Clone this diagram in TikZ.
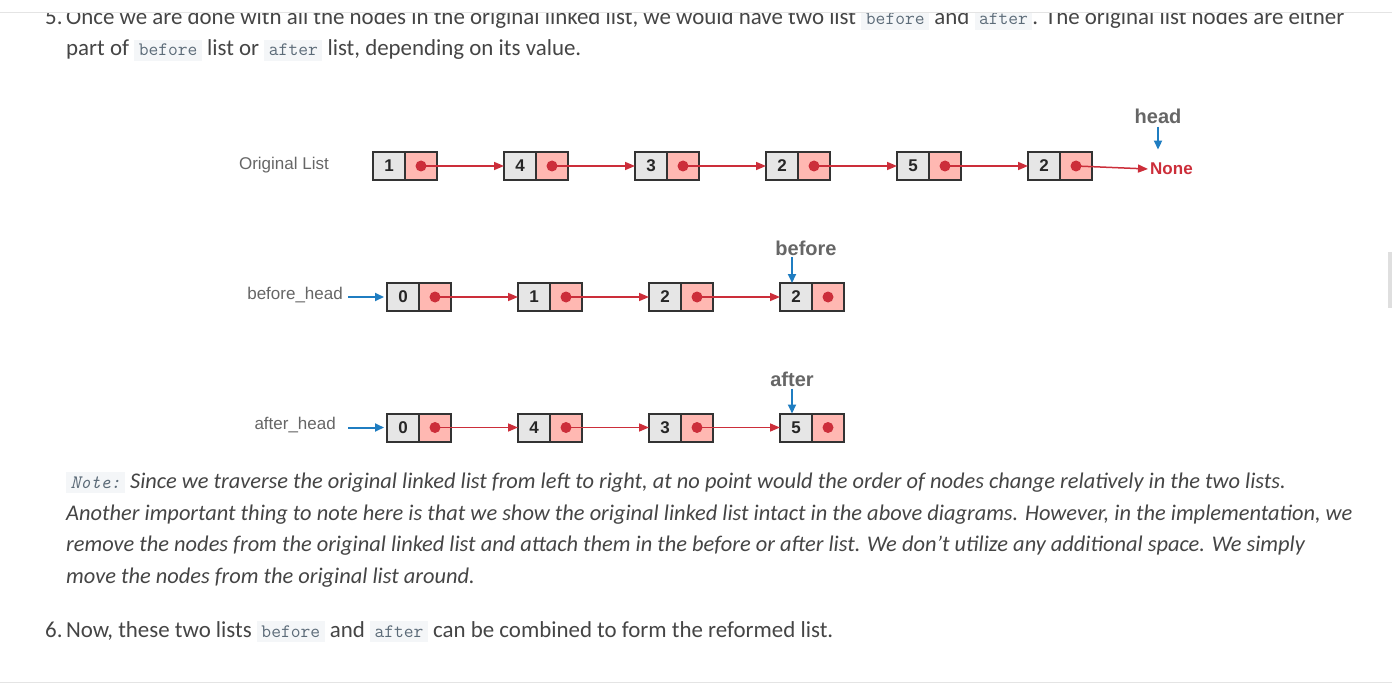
\documentclass[tikz,border=0pt]{standalone}
\usepackage{fontspec}
\setmainfont{Carlito}
\newfontfamily\labelfont{Liberation Sans}
\usepackage{xcolor}
\usetikzlibrary{arrows.meta,positioning}

\definecolor{boxgray}{HTML}{E6E6E6}
\definecolor{boxpink}{HTML}{FFB8B2}
\definecolor{ptrred}{HTML}{CC2E3A}
\definecolor{ptrblue}{HTML}{1F7DC1}
\definecolor{labelgray}{HTML}{666666}
\definecolor{bodytext}{HTML}{454545}
\definecolor{codebg}{HTML}{F4F6F8}
\definecolor{codetext}{HTML}{5C6B78}
\definecolor{rulegray}{HTML}{E4E4E4}

\newcommand{\code}[1]{{\setlength{\fboxsep}{4.5pt}\colorbox{codebg}{\color{codetext}\ttfamily\fontsize{19}{19}\selectfont #1}}}

\tikzset{
  val/.style={draw=black!80, line width=2pt, fill=boxgray, minimum width=32pt, minimum height=28pt,
    inner sep=0pt, outer sep=0pt, font=\labelfont\bfseries\fontsize{17}{17}\selectfont, text=black!85},
  nxt/.style={val, fill=boxpink},
  link/.style={ptrred, line width=1.5pt, -{Triangle[length=10pt,width=8pt]}},
  ptr/.style={ptrblue, line width=2pt, -{Triangle[length=9pt,width=8pt]}},
  listname/.style={font=\labelfont\fontsize{17}{17}\selectfont, text=labelgray, anchor=east, inner sep=0pt},
  tag/.style={font=\labelfont\bfseries\fontsize{20}{20}\selectfont, text=labelgray, inner sep=0pt},
  body/.style={anchor=base west, inner sep=0pt, text=bodytext, font=\fontsize{22.9}{22.9}\selectfont},
  note/.style={body, font=\fontsize{22.4}{22.4}\selectfont\itshape}
}

\begin{document}
\begin{tikzpicture}[x=1pt,y=-1pt]
  \useasboundingbox (0,0) rectangle (1392,687);
  \fill[white] (0,0) rectangle (1392,687);

  % text above
  \node[body] (n5) at (45,25) {5.};
  \node[body] (p1) at (66,25) {Once we are done with all the nodes in the original linked list, we would have two list \code{before} and \code{after}. The original list nodes are either};
  \node[body] (p2) at (66,56) {part of \code{before} list or \code{after} list, depending on its value.};
  \fill[white] (0,0) rectangle (1392,12);
  \draw[rulegray] (0,12) -- (1392,12);

  % original list
  \node[listname] (orig) at (329,165) {Original List};
  \foreach \v [count=\i] in {1,4,3,2,5,2}{
    \node[val] (o\i) at ({389+131*(\i-1)},166) {\v};
    \node[nxt, right=0pt of o\i] (op\i) {};
  }
  \node[font=\labelfont\bfseries\fontsize{17}{17}\selectfont, text=ptrred, anchor=west, inner sep=0pt] (none) at (1150,169) {None};
  \foreach \i [evaluate=\i as \j using int(\i+1)] in {1,...,5}
    \draw[link] (op\i.center) -- (o\j.west);
  \draw[link] (op6.center) -- ([xshift=-2pt]none.west);
  \foreach \i in {1,...,6}
    \fill[ptrred] (op\i) circle (5.5pt);
  \node[tag] (head) at (1158,116) {head};
  \draw[ptr] ([yshift=-3pt]head.south) -- ++(0,23);

  % before list
  \node[listname] (bhead) at (343,295) {before\_head};
  \foreach \v [count=\i] in {0,1,2,2}{
    \node[val] (b\i) at ({403+131*(\i-1)},297) {\v};
    \node[nxt, right=0pt of b\i] (bp\i) {};
  }
  \foreach \i [evaluate=\i as \j using int(\i+1)] in {1,...,3}
    \draw[link] (bp\i.center) -- (b\j.west);
  \foreach \i in {1,...,4}
    \fill[ptrred] (bp\i) circle (5.5pt);
  \coordinate (bstart) at (348,297);
  \draw[ptr] (bstart) -- ([xshift=-3pt]b1.west);
  \node[tag] (before) at (806,248) {before};
  \draw[ptr] ([xshift=-4pt,yshift=26pt]b4.north) -- ([xshift=-4pt]b4.north);

  % after list
  \node[listname] (ahead) at (336,425) {after\_head};
  \foreach \v [count=\i] in {0,4,3,5}{
    \node[val] (a\i) at ({403+131*(\i-1)},427.5) {\v};
    \node[nxt, right=0pt of a\i] (ap\i) {};
  }
  \foreach \i [evaluate=\i as \j using int(\i+1)] in {1,...,3}
    \draw[link] (ap\i.center) -- (a\j.west);
  \foreach \i in {1,...,4}
    \fill[ptrred] (ap\i) circle (5.5pt);
  \coordinate (astart) at (348,427.5);
  \draw[ptr] (astart) -- ([xshift=-3pt]a1.west);
  \node[tag] (after) at (792,379) {after};
  \draw[ptr] ([xshift=-4pt,yshift=25pt]a4.north) -- ([xshift=-4pt]a4.north);

  % note
  \node[note] (q1) at (66,488) {\code{\itshape Note:} Since we traverse the original linked list from left to right, at no point would the order of nodes change relatively in the two lists.};
  \node[note] (q2) at (66,520) {Another important thing to note here is that we show the original linked list intact in the above diagrams. However, in the implementation, we};
  \node[note] (q3) at (66,551) {remove the nodes from the original linked list and attach them in the before or after list. We don't utilize any additional space. We simply};
  \node[note] (q4) at (66,583) {move the nodes from the original list around.};

  \node[body] (n6) at (45,637) {6.};
  \node[body] (p6) at (66,637) {Now, these two lists \code{before} and \code{after} can be combined to form the reformed list.};
  \draw[rulegray] (0,682) -- (1392,682);
  \fill[gray!25] (1388,252) rectangle (1392,308);
\end{tikzpicture}
\end{document}
